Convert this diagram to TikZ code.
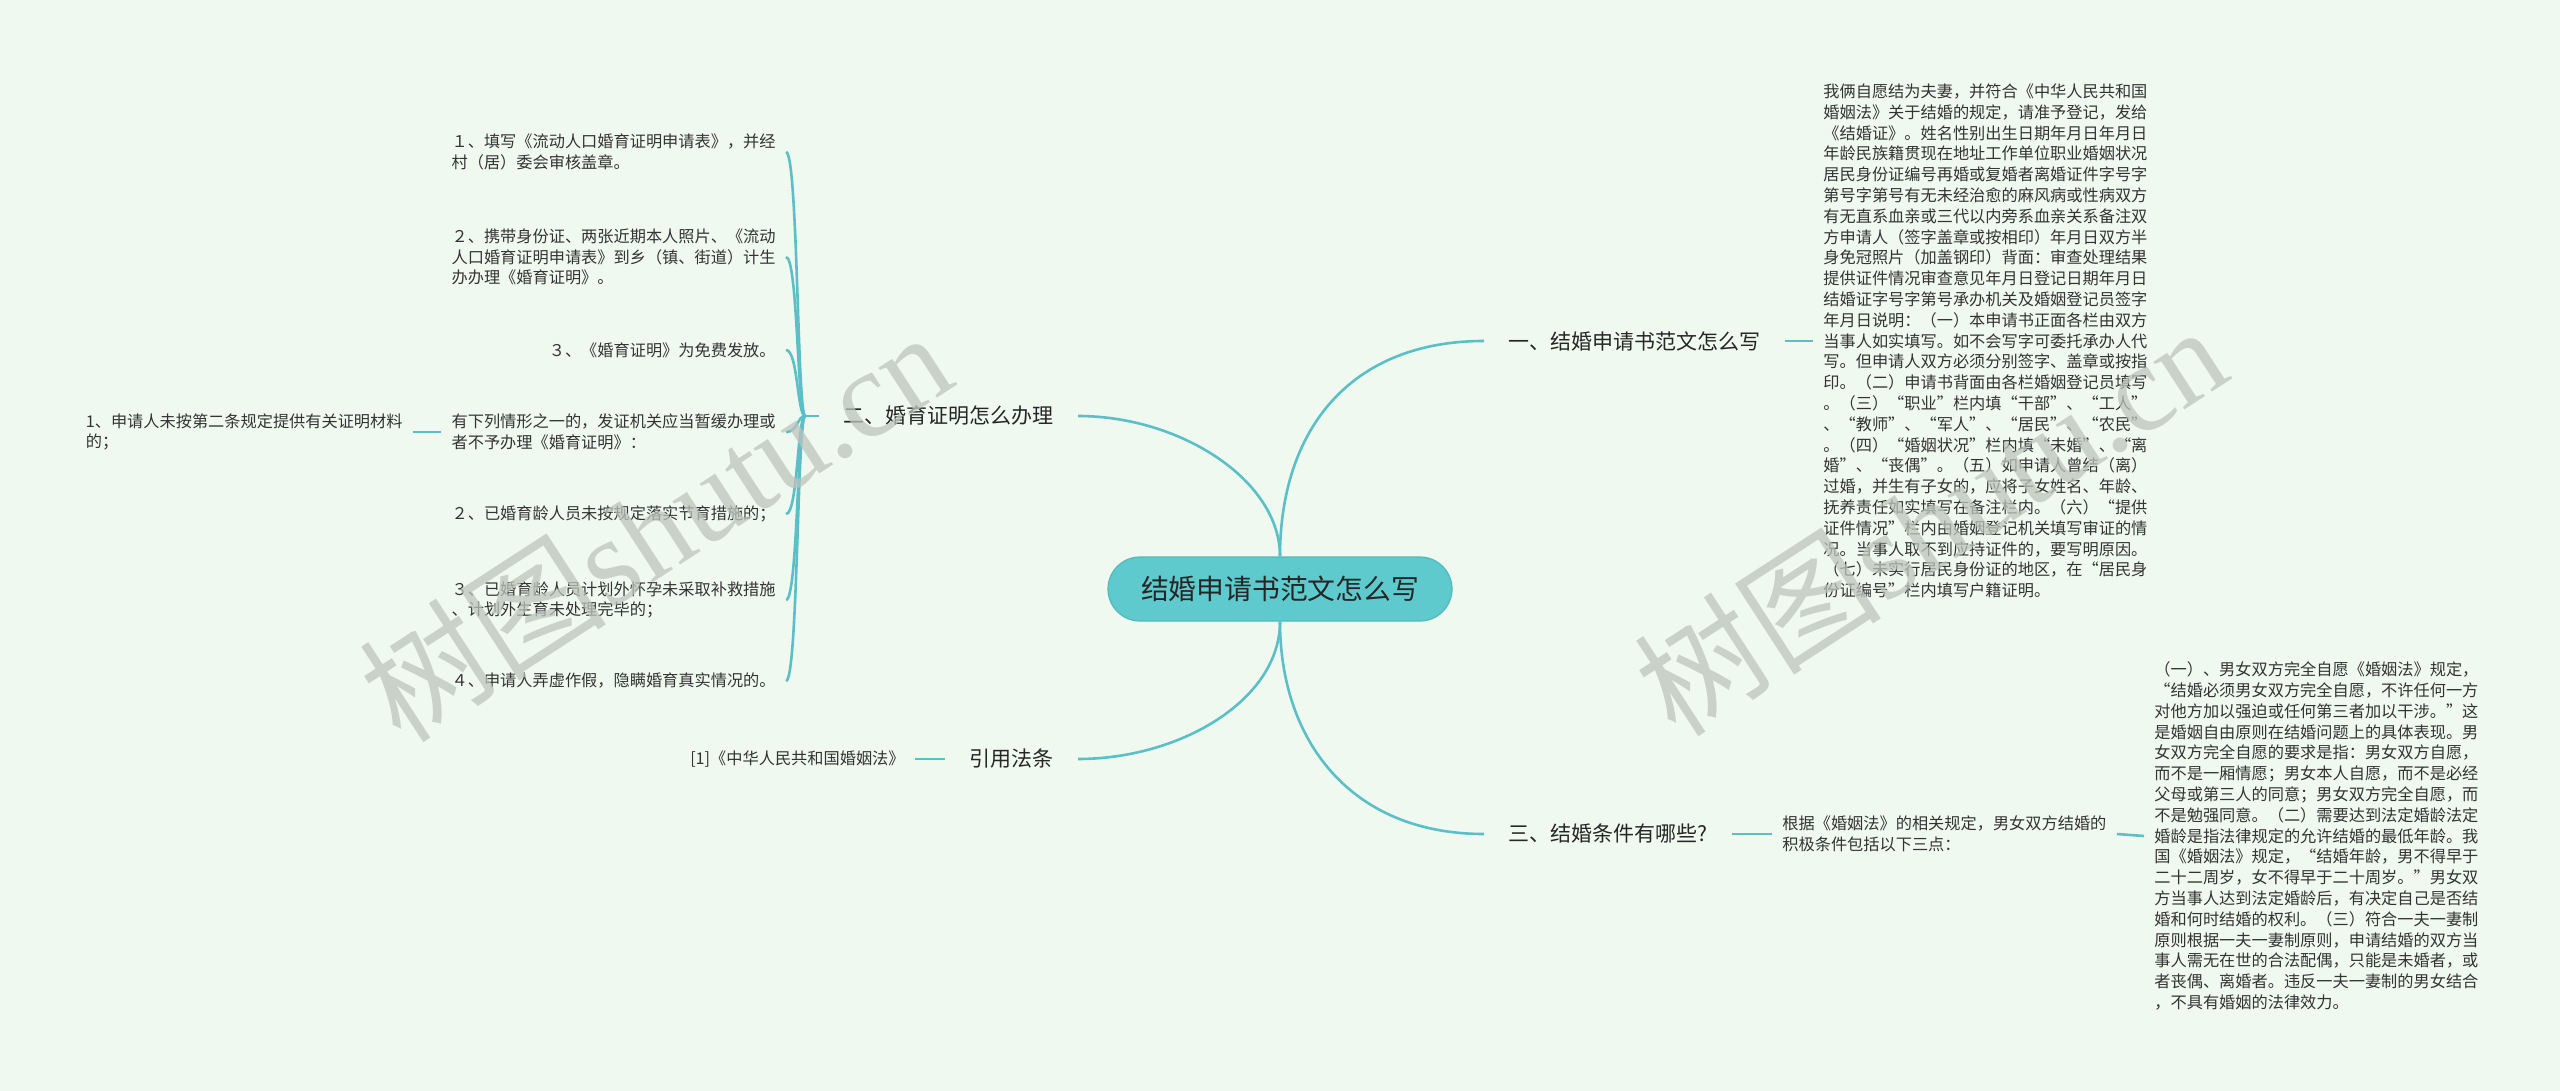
\documentclass[tikz,border=0pt]{standalone}
\usepackage{fontspec}
\setmainfont{Noto Sans CJK SC}
\newfontfamily\wmlatin{Liberation Serif}
\usetikzlibrary{calc}
\definecolor{bgmint}{HTML}{F0F9F0}
\definecolor{branch}{HTML}{5CBFC8}
\definecolor{rootfill}{HTML}{5FCACD}
\definecolor{rootedge}{HTML}{52B9BD}
\definecolor{txt}{HTML}{333333}
\definecolor{wmgray}{HTML}{BCC4BC}

\begin{document}
\begin{tikzpicture}[x=0.5pt, y=-0.5pt, font=\fontsize{8.1}{10.4}\selectfont, text=txt,
  root/.style={fill=rootfill, draw=rootedge, line width=0.6pt, rounded corners=16pt,
               minimum width=172pt, minimum height=32pt, inner sep=0pt,
               font=\fontsize{13.9}{16}\selectfont, text=black!85},
  topic/.style={inner xsep=12pt, inner ysep=3pt, font=\fontsize{10.5}{12}\selectfont,
                text=black!85},
  leaf/.style={inner xsep=5pt, inner ysep=2pt, align=left},
  link/.style={draw=branch, line width=1.3pt},
  wmark/.style={text=wmgray, opacity=0.75, font=\fontsize{62}{62}\selectfont, rotate=33}
]
\fill[bgmint] (0,0) rectangle (2560,1091);
\useasboundingbox (0,0) rectangle (2560,1091);

% centre and main topics
\node[root] (root) at (1280,589) {结婚申请书范文怎么写};
\node[topic, anchor=west] (t1) at (1484,341) {一、结婚申请书范文怎么写};
\node[topic, anchor=east] (t2) at (1078,416) {二、婚育证明怎么办理};
\node[topic, anchor=west] (t3) at (1484,834) {三、结婚条件有哪些?};
\node[topic, anchor=east] (t4) at (1078,759) {引用法条};

% right side
\node[leaf, anchor=west] (p1) at (1813,341) {我俩自愿结为夫妻，并符合《中华人民共和国\\婚姻法》关于结婚的规定，请准予登记，发给\\《结婚证》。姓名性别出生日期年月日年月日\\年龄民族籍贯现在地址工作单位职业婚姻状况\\居民身份证编号再婚或复婚者离婚证件字号字\\第号字第号有无未经治愈的麻风病或性病双方\\有无直系血亲或三代以内旁系血亲关系备注双\\方申请人（签字盖章或按相印）年月日双方半\\身免冠照片（加盖钢印）背面：审查处理结果\\提供证件情况审查意见年月日登记日期年月日\\结婚证字号字第号承办机关及婚姻登记员签字\\年月日说明：（一）本申请书正面各栏由双方\\当事人如实填写。如不会写字可委托承办人代\\写。但申请人双方必须分别签字、盖章或按指\\印。（二）申请书背面由各栏婚姻登记员填写\\。（三）“职业”栏内填“干部”、“工人”\\、“教师”、“军人”、“居民”、“农民”\\。（四）“婚姻状况”栏内填“未婚”、“离\\婚”、“丧偶”。（五）如申请人曾结（离）\\过婚，并生有子女的，应将子女姓名、年龄、\\抚养责任如实填写在备注栏内。（六）“提供\\证件情况”栏内由婚姻登记机关填写审证的情\\况。当事人取不到应持证件的，要写明原因。\\（七）未实行居民身份证的地区，在“居民身\\份证编号”栏内填写户籍证明。};
\node[leaf, anchor=west] (p3) at (1772,834) {根据《婚姻法》的相关规定，男女双方结婚的\\积极条件包括以下三点：};
\node[leaf, anchor=west] (p4) at (2144,836) {（一）、男女双方完全自愿《婚姻法》规定，\\“结婚必须男女双方完全自愿，不许任何一方\\对他方加以强迫或任何第三者加以干涉。”这\\是婚姻自由原则在结婚问题上的具体表现。男\\女双方完全自愿的要求是指：男女双方自愿，\\而不是一厢情愿；男女本人自愿，而不是必经\\父母或第三人的同意；男女双方完全自愿，而\\不是勉强同意。（二）需要达到法定婚龄法定\\婚龄是指法律规定的允许结婚的最低年龄。我\\国《婚姻法》规定，“结婚年龄，男不得早于\\二十二周岁，女不得早于二十周岁。”男女双\\方当事人达到法定婚龄后，有决定自己是否结\\婚和何时结婚的权利。（三）符合一夫一妻制\\原则根据一夫一妻制原则，申请结婚的双方当\\事人需无在世的合法配偶，只能是未婚者，或\\者丧偶、离婚者。违反一夫一妻制的男女结合\\，不具有婚姻的法律效力。};

% left side
\node[leaf, anchor=east] (c1) at (786,152) {１、填写《流动人口婚育证明申请表》，并经\\村（居）委会审核盖章。};
\node[leaf, anchor=east] (c2) at (786,257) {２、携带身份证、两张近期本人照片、《流动\\人口婚育证明申请表》到乡（镇、街道）计生\\办办理《婚育证明》。};
\node[leaf, anchor=east] (c3) at (786,350) {３、《婚育证明》为免费发放。};
\node[leaf, anchor=east] (c4) at (786,432) {有下列情形之一的，发证机关应当暂缓办理或\\者不予办理《婚育证明》：};
\node[leaf, anchor=east] (c5) at (786,514) {２、已婚育龄人员未按规定落实节育措施的；};
\node[leaf, anchor=east] (c6) at (786,600) {３、已婚育龄人员计划外怀孕未采取补救措施\\、计划外生育未处理完毕的；};
\node[leaf, anchor=east] (c7) at (786,681) {４、申请人弄虚作假，隐瞒婚育真实情况的。};
\node[leaf, anchor=east] (g1) at (413,432) {1、申请人未按第二条规定提供有关证明材料\\的；};
\node[leaf, anchor=east] (g2) at (915,759) {[1]《中华人民共和国婚姻法》};

% connectors
\draw[link] (root.north) .. controls (1280,430) and (1350,341) .. (t1.west);
\draw[link] (root.north) .. controls (1280,480) and (1180,416) .. (t2.east);
\draw[link] (root.south) .. controls (1280,740) and (1350,834) .. (t3.west);
\draw[link] (root.south) .. controls (1280,700) and (1180,759) .. (t4.east);
\foreach \a/\b in {t1/p1, t3/p3, p3/p4} \draw[link] (\a.east) -- (\b.west);
\foreach \a/\b in {t4/g2, c4/g1} \draw[link] (\a.west) -- (\b.east);
\coordinate (fork) at ($(t2.west)+(-14,0)$);
\draw[link] (t2.west) -- (fork);
\foreach \c in {c1,c2,c3,c4,c5,c6,c7}
  \draw[link] (fork) .. controls +(-8,0) and +(12,0) .. (\c.east);

% watermarks
\node[wmark] (wm1) at (655,525) {树图{\wmlatin shutu.cn}};
\node[wmark] (wm2) at (1930,519) {树图{\wmlatin shutu.cn}};
\end{tikzpicture}
\end{document}
